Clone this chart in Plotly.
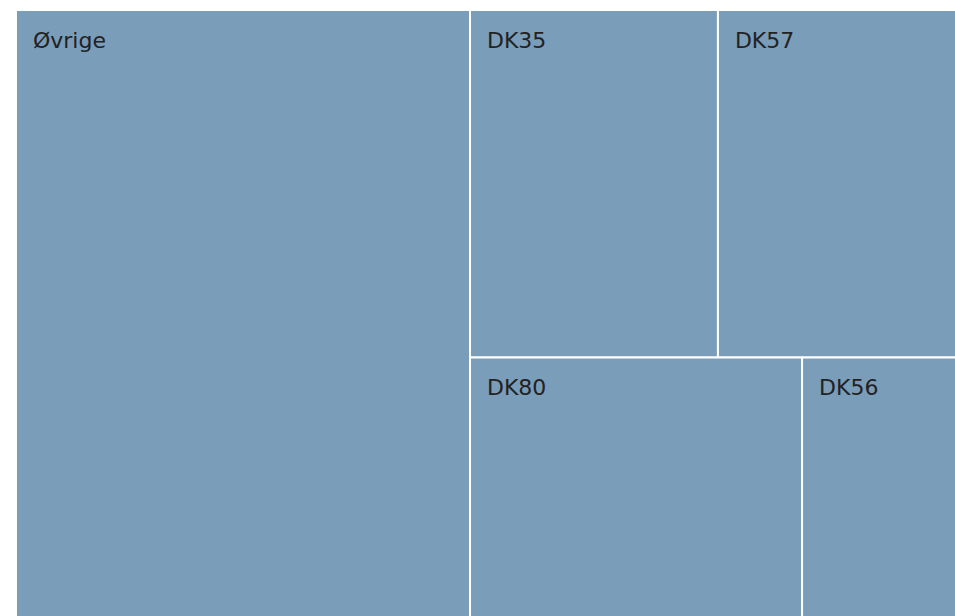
import plotly.graph_objects as go

labels = ["Øvrige", "DK35", "DK57", "DK80", "DK56"]
parents = ["", "", "", "", ""]
values = [48.3, 15.1, 14.5, 15.1, 7.0]

fig = go.Figure(go.Treemap(
    labels=labels,
    parents=parents,
    values=values,
    sort=False,
    branchvalues="total",
    textinfo="label",
    texttemplate="<span style='font-size:6px'>\u00a0</span><br>\u00a0\u00a0%{label}",
    textposition="top left",
    textfont=dict(family="DejaVu Sans", size=22, color="#222222"),
    marker=dict(colors=["#7a9db9"] * len(labels), line=dict(color="white", width=2),
                pad=dict(t=0, l=0, r=0, b=0)),
    pathbar=dict(visible=False),
    tiling=dict(packing="squarify", pad=0),
    domain=dict(x=[0, 1], y=[0, 1]),
    hoverinfo="label+value",
))

fig.update_layout(
    width=956,
    height=617,
    margin=dict(l=16, r=0, t=10, b=0),
    paper_bgcolor="white",
    showlegend=False,
)

fig.write_html(
    "out.html",
    config={"displayModeBar": False},
    post_script=(
        "document.documentElement.style.overflow='hidden';"
        "document.body.style.overflow='hidden';"
        "document.body.style.margin='0';"
    ),
)
